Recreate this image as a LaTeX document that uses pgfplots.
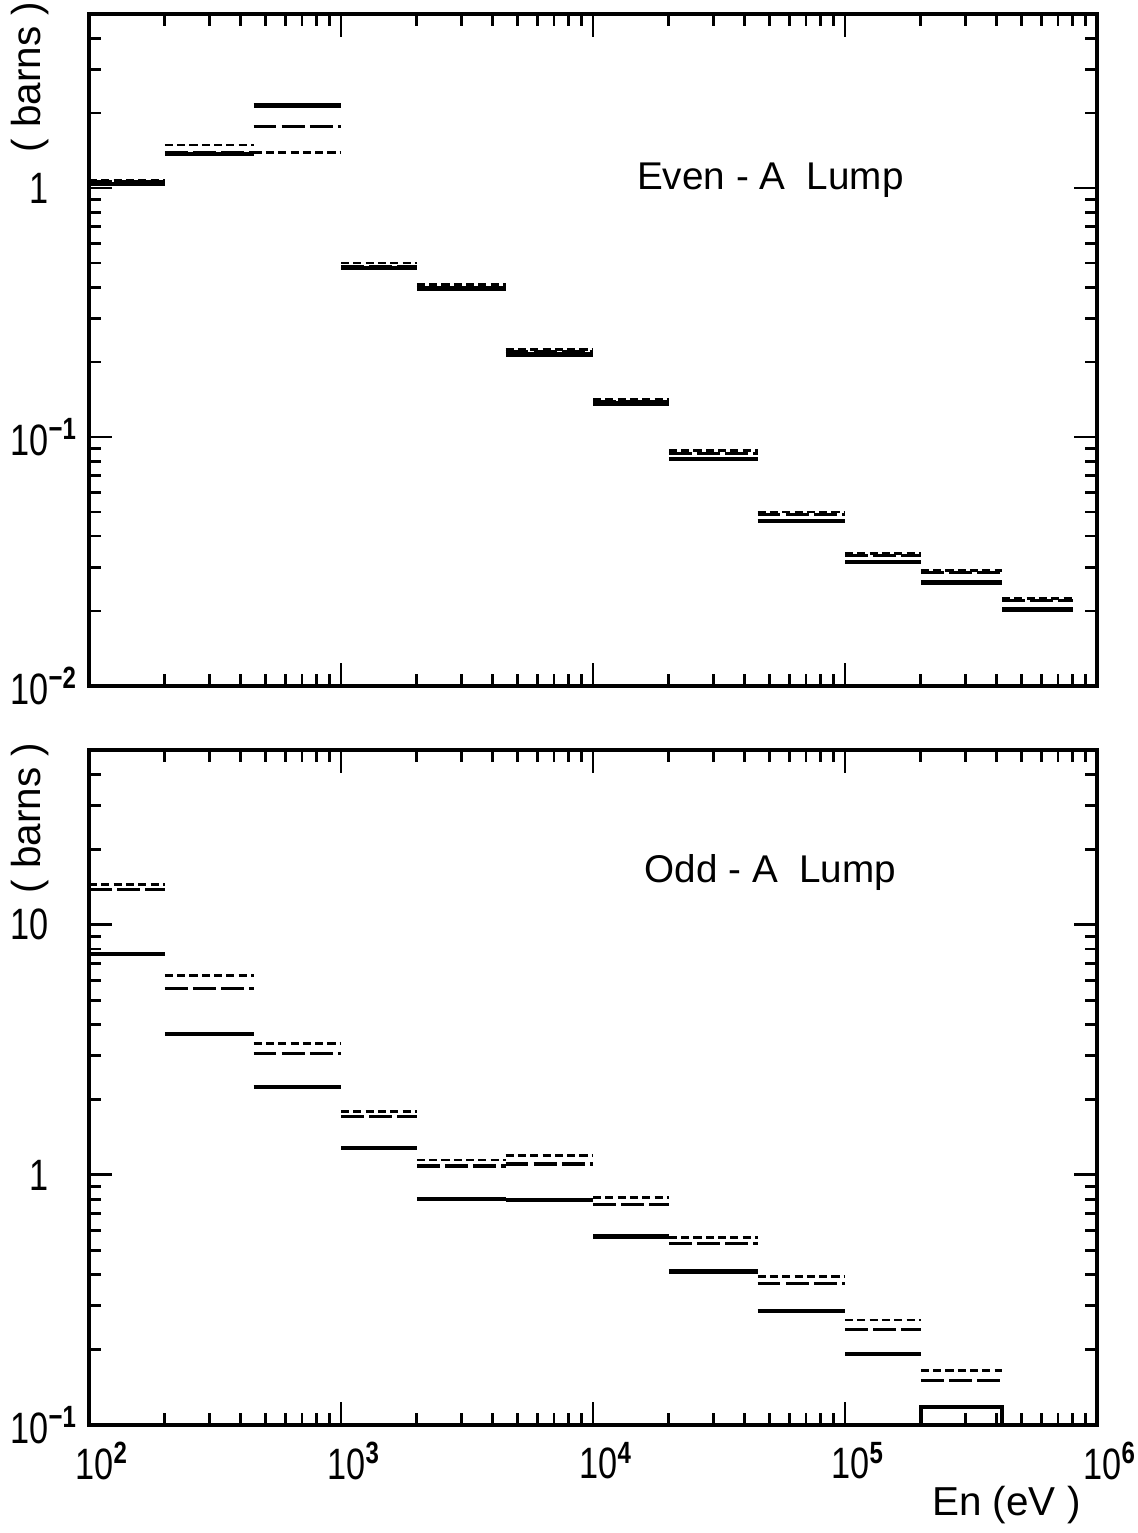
\documentclass[border=0pt]{standalone}
\usepackage{pgfplots}
\pgfplotsset{compat=1.18}
\usepackage{pgfplotstable}
\usepackage{fontspec}
\setmainfont{Liberation Sans}
\newfontfamily\tickfont{Liberation Sans}[FakeStretch=0.78]
% superscript that hangs out to the right, so the base number stays aligned
\newcommand\sx[1]{\rlap{\textsuperscript{\bfseries #1}}}

% bin lower edges; last row repeats the last value to close the final bin
\pgfplotstableread{
x       sol     ld      sd
100     1.04    1.06    1.07
200     1.37    1.39    1.49
450     2.14    1.76    1.39
1000    0.477   0.485   0.500
2000    0.395   0.400   0.410
4500    0.215   0.220   0.225
10000   0.136   0.139   0.142
20000   0.0817  0.0860  0.0880
45000   0.0460  0.0490  0.0500
100000  0.0315  0.0335  0.0340
200000  0.0260  0.0285  0.0290
420000  0.0203  0.0220  0.0225
800000  0.0203  0.0220  0.0225
}\evendata

\pgfplotstableread{
x       sol     ld      sd
100     7.65    13.8    14.45
200     3.66    5.58    6.25
450     2.25    3.05    3.36
1000    1.28    1.71    1.79
2000    0.800   1.086   1.148
4500    0.794   1.106   1.200
10000   0.566   0.759   0.811
20000   0.410   0.533   0.563
45000   0.286   0.369   0.392
100000  0.192   0.240   0.263
200000  0.118   0.151   0.165
420000  0.118   0.151   0.165
}\odddata

\tikzset{
  solline/.style={black, line width=1.3pt},
  longdash/.style={black, line width=0.9pt, dash pattern=on 6.5pt off 1.5pt},
  shortdash/.style={black, line width=0.8pt, dash pattern=on 2.3pt off 1.2pt},
}

\begin{document}
\begin{tikzpicture}
\useasboundingbox (0,0) rectangle (11.38,15.33);

% top panel: even-A
\begin{axis}[
  xmode=log, ymode=log,
  scale only axis,
  at={(0.89cm,8.47cm)}, anchor=south west,
  width=10.08cm, height=6.72cm,
  xmin=100, xmax=1000000,
  ymin=0.01, ymax=5,
  axis line style={line width=1pt},
  tick style={black, line width=0.8pt},
  major tick length=0.23cm,
  minor tick length=0.12cm,
  tick align=inside,
  xtick={100,1000,10000,100000,1000000},
  minor xtick={200,300,400,500,600,700,800,900,2000,3000,4000,5000,6000,7000,8000,9000,
    20000,30000,40000,50000,60000,70000,80000,90000,
    200000,300000,400000,500000,600000,700000,800000,900000},
  xticklabels={},
  ytick={0.01,0.1,1},
  yticklabels={10\sx{−2},10\sx{−1},1},
  minor ytick={0.02,0.03,0.04,0.05,0.06,0.07,0.08,0.09,0.2,0.3,0.4,0.5,0.6,0.7,0.8,0.9,2,3,4,5},
  ticklabel style={font=\tickfont\fontsize{12.5}{14}\selectfont},
  yticklabel style={anchor=east, xshift=-0.28cm},
  ylabel={(\ barns\ )},
  ylabel style={at={(rel axis cs:-0.0585,0.906)}, anchor=center, font=\fontsize{11.5}{13}\selectfont},
]
\addplot[shortdash, jump mark left] table[x=x, y=sd] {\evendata};
\addplot[longdash, jump mark left] table[x=x, y=ld] {\evendata};
\addplot[solline, jump mark left] table[x=x, y=sol] {\evendata};
\node[font=\fontsize{11}{13}\selectfont] at (rel axis cs:0.676,0.753) {Even - A~~Lump};
\end{axis}

% bottom panel: odd-A
\begin{axis}[
  xmode=log, ymode=log,
  scale only axis,
  at={(0.89cm,1.08cm)}, anchor=south west,
  width=10.08cm, height=6.75cm,
  xmin=100, xmax=1000000,
  ymin=0.1, ymax=50,
  axis line style={line width=1pt},
  tick style={black, line width=0.8pt},
  major tick length=0.23cm,
  minor tick length=0.12cm,
  tick align=inside,
  xtick={100,1000,10000,100000,1000000},
  minor xtick={200,300,400,500,600,700,800,900,2000,3000,4000,5000,6000,7000,8000,9000,
    20000,30000,40000,50000,60000,70000,80000,90000,
    200000,300000,400000,500000,600000,700000,800000,900000},
  xticklabels={10\textsuperscript{\bfseries 2},10\textsuperscript{\bfseries 3},10\textsuperscript{\bfseries 4},10\textsuperscript{\bfseries 5},10\textsuperscript{\bfseries 6}},
  xticklabel style={xshift=0.13cm, yshift=-0.05cm},
  ytick={0.1,1,10},
  yticklabels={10\sx{−1},1,10},
  minor ytick={0.2,0.3,0.4,0.5,0.6,0.7,0.8,0.9,2,3,4,5,6,7,8,9,20,30,40,50},
  ticklabel style={font=\tickfont\fontsize{12.5}{14}\selectfont},
  yticklabel style={anchor=east, xshift=-0.28cm},
  ylabel={(\ barns\ )},
  ylabel style={at={(rel axis cs:-0.0585,0.899)}, anchor=center, font=\fontsize{11.5}{13}\selectfont},
  xlabel={En (eV )},
  xlabel style={at={(rel axis cs:0.996,-0.1185)}, anchor=east, font=\fontsize{11.5}{14}\selectfont},
]
\addplot[shortdash, jump mark left] table[x=x, y=sd] {\odddata};
\addplot[longdash, jump mark left] table[x=x, y=ld] {\odddata};
\addplot[solline, jump mark left] table[x=x, y=sol] {\odddata};
\addplot[solline] coordinates {(200000,0.1) (200000,0.118) (420000,0.118) (420000,0.1)};
\node[font=\fontsize{11}{13}\selectfont] at (rel axis cs:0.676,0.819) {Odd - A~~Lump};
\end{axis}
\end{tikzpicture}
\end{document}
